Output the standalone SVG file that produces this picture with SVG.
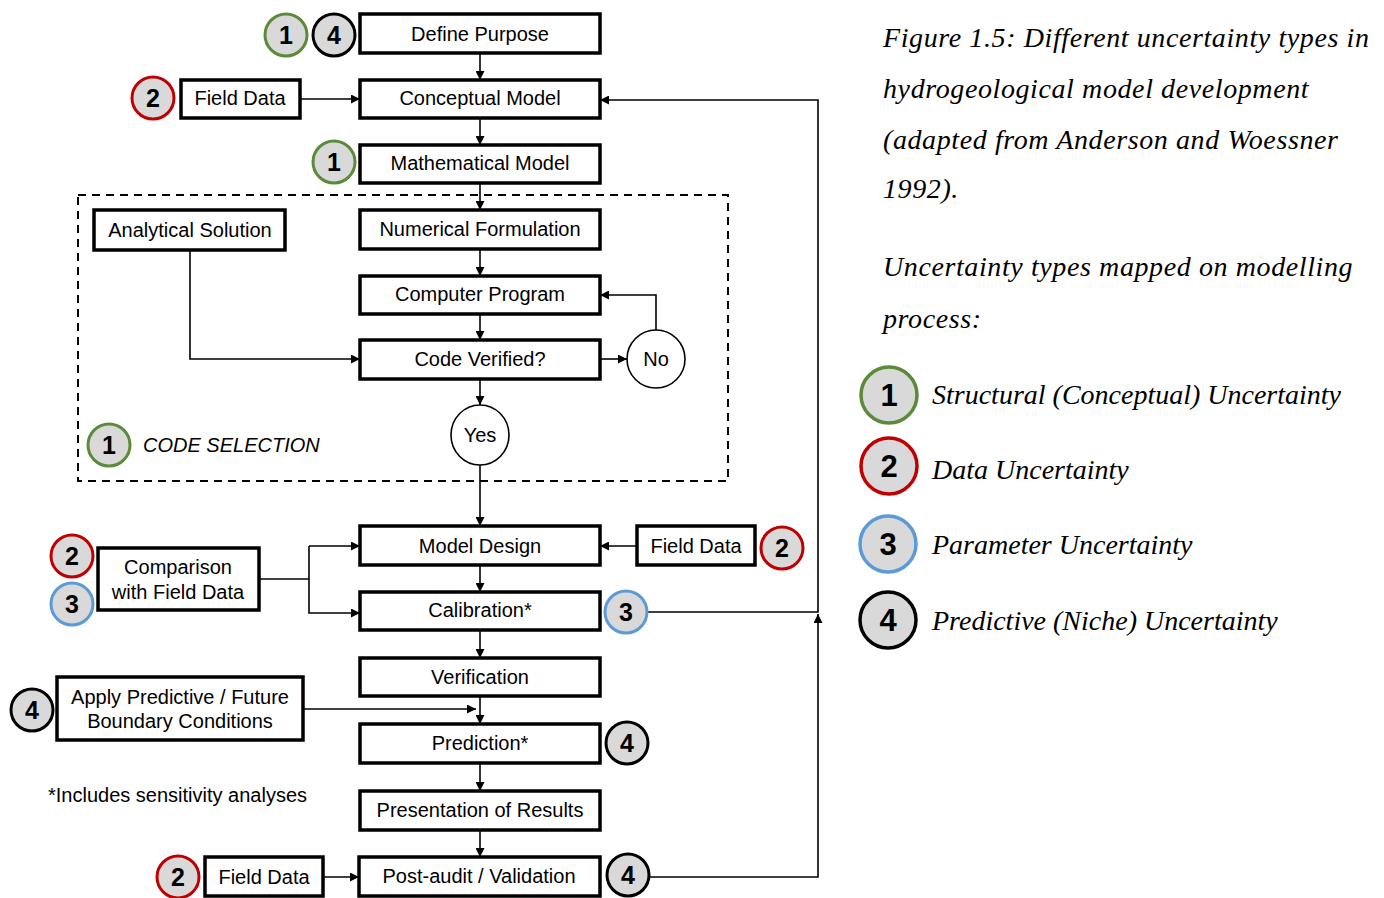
<svg xmlns="http://www.w3.org/2000/svg" width="1384" height="898" viewBox="0 0 1384 898">
<defs>
<marker id="ah" viewBox="0 0 10 10" refX="10" refY="5" markerWidth="9" markerHeight="9" markerUnits="userSpaceOnUse" orient="auto">
<path d="M0,0 L10,5 L0,10 z" fill="#000"/>
</marker>
</defs>
<style>
.box{fill:#fff;stroke:#000;stroke-width:3.5}
.t{font-family:"Liberation Sans",Arial,sans-serif;font-size:20px;fill:#000;text-anchor:middle;dominant-baseline:central}
.b{fill:#d9d9d9;stroke-width:3}
.bn{font-family:"Liberation Sans",Arial,sans-serif;font-size:25px;font-weight:bold;fill:#000;text-anchor:middle;dominant-baseline:central}
.ln{fill:#d9d9d9;stroke-width:3.5}
.lnn{font-family:"Liberation Sans",Arial,sans-serif;font-size:31px;font-weight:bold;fill:#000;text-anchor:middle;dominant-baseline:central}
.g{stroke:#5a8a3a}.r{stroke:#c00000}.bl{stroke:#5b9bd5}.k{stroke:#000}
.c{fill:none;stroke:#000;stroke-width:1.6}
.cap{font-family:"Liberation Serif","Times New Roman",serif;font-style:italic;font-size:28px;letter-spacing:0.6px;fill:#000}
.leg{font-family:"Liberation Serif","Times New Roman",serif;font-style:italic;font-size:28px;fill:#000}
.oc{fill:#fff;stroke:#000;stroke-width:1.6}
</style>
<rect x="78" y="195" width="650" height="286" fill="none" stroke="#000" stroke-width="2" stroke-dasharray="8,6"/>
<g id="connectors">
<path class="c" d="M480,53 V80" marker-end="url(#ah)"/>
<path class="c" d="M300,99 H360" marker-end="url(#ah)"/>
<path class="c" d="M480,118 V145" marker-end="url(#ah)"/>
<path class="c" d="M480,183 V210" marker-end="url(#ah)"/>
<path class="c" d="M480,249 V276" marker-end="url(#ah)"/>
<path class="c" d="M480,314 V340" marker-end="url(#ah)"/>
<path class="c" d="M190,250 V359 H360" marker-end="url(#ah)"/>
<path class="c" d="M600,359 H627" marker-end="url(#ah)"/>
<path class="c" d="M656,330 V295 H600" marker-end="url(#ah)"/>
<path class="c" d="M480,379 V405" marker-end="url(#ah)"/>
<path class="c" d="M480,465 V526" marker-end="url(#ah)"/>
<path class="c" d="M637,546 H600" marker-end="url(#ah)"/>
<path class="c" d="M259,579 H309"/>
<path class="c" d="M309,546 H360" marker-end="url(#ah)"/>
<path class="c" d="M309,546 V613 H360" marker-end="url(#ah)"/>
<path class="c" d="M480,565 V592" marker-end="url(#ah)"/>
<path class="c" d="M480,630 V658" marker-end="url(#ah)"/>
<path class="c" d="M480,696 V724" marker-end="url(#ah)"/>
<path class="c" d="M303,709 H476" marker-end="url(#ah)"/>
<path class="c" d="M480,763 V791" marker-end="url(#ah)"/>
<path class="c" d="M480,830 V857" marker-end="url(#ah)"/>
<path class="c" d="M323,877 H359" marker-end="url(#ah)"/>
<path class="c" d="M648,612 H818 V100 H600" marker-end="url(#ah)"/>
<path class="c" d="M650,877 H818 V614" marker-end="url(#ah)"/>
</g>
<g id="define-purpose"><rect class="box" x="360" y="14" width="240" height="39"/><text class="t" x="480" y="34">Define Purpose</text></g>
<g id="conceptual-model"><rect class="box" x="360" y="80" width="240" height="38"/><text class="t" x="480" y="98">Conceptual Model</text></g>
<g id="mathematical-model"><rect class="box" x="360" y="145" width="240" height="38"/><text class="t" x="480" y="163">Mathematical Model</text></g>
<g id="numerical-formulation"><rect class="box" x="360" y="210" width="240" height="39"/><text class="t" x="480" y="229">Numerical Formulation</text></g>
<g id="computer-program"><rect class="box" x="360" y="276" width="240" height="38"/><text class="t" x="480" y="294">Computer Program</text></g>
<g id="code-verified"><rect class="box" x="360" y="340" width="240" height="39"/><text class="t" x="480" y="359">Code Verified?</text></g>
<g id="no"><ellipse class="oc" cx="656" cy="359" rx="29" ry="29"/><text class="t" x="656" y="359">No</text></g>
<g id="yes"><ellipse class="oc" cx="480" cy="435" rx="29" ry="30"/><text class="t" x="480" y="435">Yes</text></g>
<g id="analytical-solution"><rect class="box" x="94" y="210" width="191" height="40"/><text class="t" x="190" y="230">Analytical Solution</text></g>
<g id="field-data-top"><rect class="box" x="181" y="80" width="119" height="38"/><text class="t" x="240" y="98">Field Data</text></g>
<g id="model-design"><rect class="box" x="360" y="526" width="240" height="39"/><text class="t" x="480" y="546">Model Design</text></g>
<g id="field-data-right"><rect class="box" x="637" y="526" width="118" height="39"/><text class="t" x="696" y="546">Field Data</text></g>
<g id="calibration"><rect class="box" x="360" y="592" width="240" height="38"/><text class="t" x="480" y="610">Calibration*</text></g>
<g id="comparison"><rect class="box" x="98" y="548" width="161" height="62"/><text class="t" x="178" y="567">Comparison</text><text class="t" x="178" y="592">with Field Data</text></g>
<g id="verification"><rect class="box" x="360" y="658" width="240" height="38"/><text class="t" x="480" y="677">Verification</text></g>
<g id="apply-predictive"><rect class="box" x="57" y="677" width="246" height="63"/><text class="t" x="180" y="697">Apply Predictive / Future</text><text class="t" x="180" y="721">Boundary Conditions</text></g>
<g id="prediction"><rect class="box" x="360" y="724" width="240" height="39"/><text class="t" x="480" y="743">Prediction*</text></g>
<g id="presentation"><rect class="box" x="360" y="791" width="240" height="39"/><text class="t" x="480" y="810">Presentation of Results</text></g>
<g id="post-audit"><rect class="box" x="359" y="857" width="241" height="39"/><text class="t" x="479" y="876">Post-audit / Validation</text></g>
<g id="field-data-bottom"><rect class="box" x="205" y="857" width="118" height="39"/><text class="t" x="264" y="877">Field Data</text></g>
<text id="footnote" x="48" y="795" style="font-family:'Liberation Sans',Arial,sans-serif;font-size:20px;dominant-baseline:central">*Includes sensitivity analyses</text>
<text id="code-selection" x="143" y="445" style="font-family:'Liberation Sans',Arial,sans-serif;font-size:20px;font-style:italic;dominant-baseline:central">CODE SELECTION</text>
<g id="badges">
<g><circle class="b g" cx="286" cy="35" r="21"/><text class="bn" x="286" y="35">1</text></g>
<g><circle class="b k" cx="334" cy="35" r="21"/><text class="bn" x="334" y="35">4</text></g>
<g><circle class="b r" cx="153" cy="98" r="21"/><text class="bn" x="153" y="98">2</text></g>
<g><circle class="b g" cx="334" cy="162" r="21"/><text class="bn" x="334" y="162">1</text></g>
<g><circle class="b g" cx="109" cy="445" r="21"/><text class="bn" x="109" y="445">1</text></g>
<g><circle class="b r" cx="72" cy="556" r="21"/><text class="bn" x="72" y="556">2</text></g>
<g><circle class="b bl" cx="72" cy="604" r="21"/><text class="bn" x="72" y="604">3</text></g>
<g><circle class="b bl" cx="626" cy="612" r="21"/><text class="bn" x="626" y="612">3</text></g>
<g><circle class="b r" cx="782" cy="548" r="21"/><text class="bn" x="782" y="548">2</text></g>
<g><circle class="b k" cx="32" cy="710" r="21"/><text class="bn" x="32" y="710">4</text></g>
<g><circle class="b k" cx="627" cy="743" r="21"/><text class="bn" x="627" y="743">4</text></g>
<g><circle class="b r" cx="178" cy="877" r="21"/><text class="bn" x="178" y="877">2</text></g>
<g><circle class="b k" cx="628" cy="875" r="21"/><text class="bn" x="628" y="875">4</text></g>
</g>
<g id="caption">
<text class="cap" x="883" y="47">Figure 1.5: Different uncertainty types in</text>
<text class="cap" x="883" y="98">hydrogeological model development</text>
<text class="cap" x="883" y="149">(adapted from Anderson and Woessner</text>
<text class="cap" x="883" y="198">1992).</text>
<text class="cap" x="883" y="276">Uncertainty types mapped on modelling</text>
<text class="cap" x="883" y="328">process:</text>
</g>
<g id="legend">
<g><circle class="ln g" cx="889" cy="395" r="28"/><text class="lnn" x="889" y="395">1</text><text class="leg" x="932" y="404">Structural (Conceptual) Uncertainty</text></g>
<g><circle class="ln r" cx="889" cy="466" r="28"/><text class="lnn" x="889" y="466">2</text><text class="leg" x="932" y="479">Data Uncertainty</text></g>
<g><circle class="ln bl" cx="888" cy="544" r="28"/><text class="lnn" x="888" y="544">3</text><text class="leg" x="932" y="554">Parameter Uncertainty</text></g>
<g><circle class="ln k" cx="888" cy="620" r="28"/><text class="lnn" x="888" y="620">4</text><text class="leg" x="932" y="630">Predictive (Niche) Uncertainty</text></g>
</g>
</svg>
